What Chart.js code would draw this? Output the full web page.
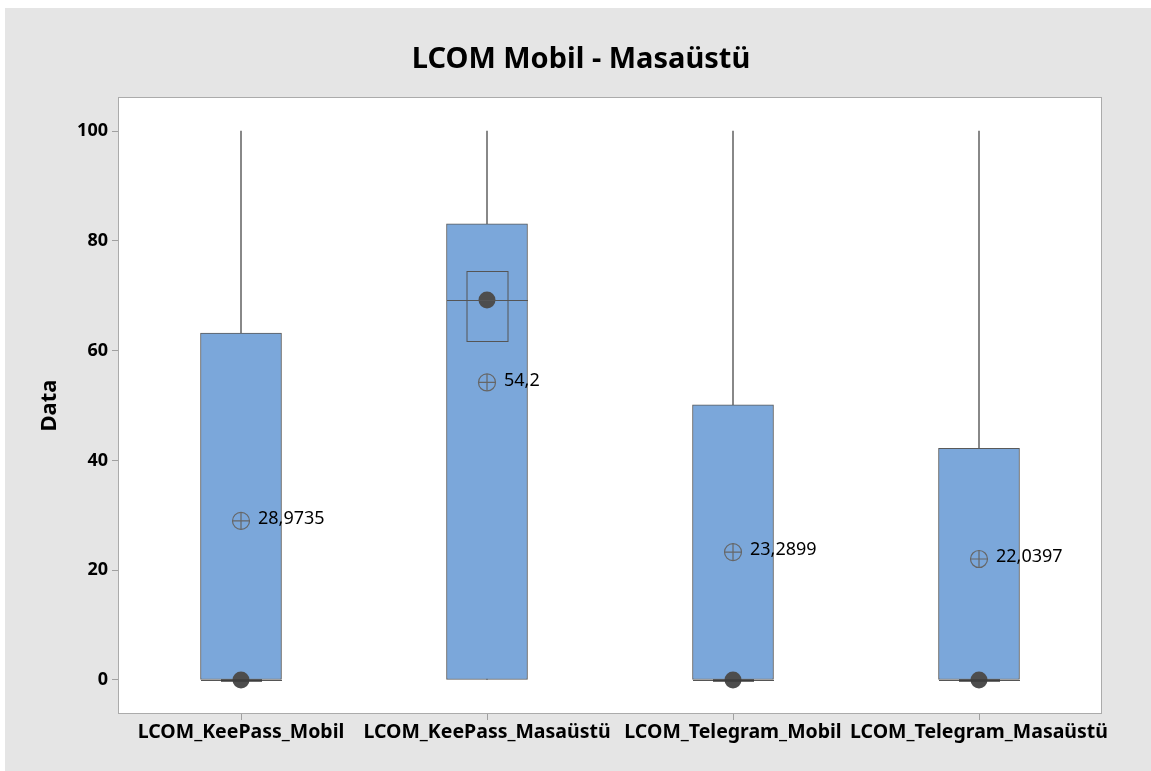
<!DOCTYPE html>
<html>
<head>
<meta charset="utf-8">
<script src="https://cdn.jsdelivr.net/npm/chart.js@4"></script>
<style>
    html, body { margin: 0; padding: 0; background: #ffffff; }
    #wrap { width: 1151px; height: 771px; }
</style>
</head>
<body>
<div id="wrap"><canvas id="boxChart" width="1151" height="771"></canvas></div>
<script>
const categories = ["LCOM_KeePass_Mobil", "LCOM_KeePass_Masaüstü", "LCOM_Telegram_Mobil", "LCOM_Telegram_Masaüstü"];
const whiskerLow = [0, 0, 0, 0];
const whiskerHigh = [100, 100, 100, 100];
const q1 = [0, 0, 0, 0];
const q3 = [63.2, 83.1, 50.1, 42.2];
const medians = [0, 69.2, 0, 0];
const medianCiLow = [0, 61.8, 0, 0];
const medianCiHigh = [0, 74.5, 0, 0];
const means = [28.9735, 54.2, 23.2899, 22.0397];
const meanLabels = ["28,9735", "54,2", "23,2899", "22,0397"];
const yTicks = [0, 20, 40, 60, 80, 100];

const FONT = "'Noto Sans', 'Open Sans', sans-serif";

/* gray background + plot frame */
const backdrop = {
    id: "backdrop",
    beforeDraw(chart) {
        const ctx = chart.ctx;
        const a = chart.chartArea;
        ctx.save();
        ctx.fillStyle = "#e5e5e5";
        ctx.fillRect(5, 8, chart.width - 5, chart.height - 8);
        ctx.fillStyle = "#ffffff";
        ctx.fillRect(a.left, a.top, a.right - a.left, a.bottom - a.top);
        ctx.restore();
    },
    afterDatasetsDraw(chart) {
        const ctx = chart.ctx;
        const a = chart.chartArea;
        ctx.save();
        ctx.strokeStyle = "#ababab";
        ctx.lineWidth = 1;
        ctx.strokeRect(a.left + 0.5, a.top + 0.5, a.right - a.left - 1, a.bottom - a.top - 1);
        ctx.restore();
    }
};

/* median line, median CI box and mean labels */
const boxExtras = {
    id: "boxExtras",
    afterDatasetsDraw(chart) {
        const ctx = chart.ctx;
        const x = chart.scales.x, y = chart.scales.y;
        ctx.save();
        categories.forEach((c, i) => {
            const cx = Math.round(x.getPixelForValue(i)) + 0.5;
            const ym = Math.round(y.getPixelForValue(medians[i])) + 0.5;
            ctx.strokeStyle = "#555555";
            ctx.lineWidth = 1;
            ctx.beginPath();
            ctx.moveTo(cx - 40.5, ym);
            ctx.lineTo(cx + 40.5, ym);
            ctx.stroke();
            const yl = Math.round(y.getPixelForValue(medianCiLow[i])) + 0.5;
            const yh = Math.round(y.getPixelForValue(medianCiHigh[i])) + 0.5;
            if (yl - yh < 1) {
                ctx.lineWidth = 2.5;
                ctx.strokeStyle = "#3d3d3d";
                ctx.beginPath();
                ctx.moveTo(cx - 20.5, yl);
                ctx.lineTo(cx + 20.5, yl);
                ctx.stroke();
            } else {
                ctx.lineWidth = 1;
                ctx.strokeRect(cx - 20.5, yh, 41, yl - yh);
            }
        });
        ctx.restore();
    },
    afterDraw(chart) {
        const ctx = chart.ctx;
        const x = chart.scales.x, y = chart.scales.y;
        ctx.save();
        ctx.fillStyle = "#000000";
        ctx.font = "18px " + FONT;
        ctx.textAlign = "left";
        ctx.textBaseline = "middle";
        means.forEach((m, i) => {
            ctx.fillText(meanLabels[i], x.getPixelForValue(i) + 17, y.getPixelForValue(m) - 2);
        });
        ctx.restore();
    }
};

new Chart(document.getElementById("boxChart"), {
    data: {
        labels: categories,
        datasets: [
            {
                type: "line",
                label: "median",
                data: medians,
                showLine: false,
                pointRadius: 8.5,
                pointBackgroundColor: "#4d4d4d",
                pointBorderColor: "#4d4d4d",
                pointBorderWidth: 0,
                order: 0
            },
            {
                type: "line",
                label: "mean circle",
                data: means,
                showLine: false,
                pointStyle: "circle",
                pointRadius: 8.5,
                pointBackgroundColor: "rgba(0,0,0,0)",
                pointBorderColor: "#666666",
                pointBorderWidth: 1.2,
                order: 1
            },
            {
                type: "line",
                label: "mean cross",
                data: means,
                showLine: false,
                pointStyle: "cross",
                pointRadius: 8.5,
                pointBorderColor: "#666666",
                pointBorderWidth: 1.2,
                order: 1
            },
            {
                type: "bar",
                label: "box",
                data: q1.map((v, i) => [v, q3[i]]),
                backgroundColor: "#7ba7da",
                borderColor: "#5a5a5a",
                borderWidth: 1,
                borderSkipped: false,
                barThickness: 81,
                grouped: false,
                order: 5
            },
            {
                type: "bar",
                label: "whisker",
                data: whiskerLow.map((v, i) => [v, whiskerHigh[i]]),
                backgroundColor: "#707070",
                borderWidth: 0,
                barThickness: 1,
                grouped: false,
                order: 6
            }
        ]
    },
    options: {
        responsive: false,
        animation: false,
        layout: { padding: { left: 60, right: 49, top: 0, bottom: 0 } },
        plugins: {
            legend: { display: false },
            tooltip: { enabled: false },
            title: {
                display: true,
                text: "LCOM Mobil - Masaüstü",
                color: "#000000",
                font: { family: FONT, size: 29, weight: "bold" },
                padding: { top: 42.6, bottom: 19.6 }
            }
        },
        scales: {
            x: {
                type: "category",
                offset: true,
                grid: { display: true, drawOnChartArea: false, drawTicks: true, tickLength: 6, color: "#a0a0a0", offset: false },
                border: { display: false },
                ticks: {
                    color: "#000000",
                    font: { family: FONT, size: 19.5, weight: "bold" },
                    maxRotation: 0,
                    minRotation: 0,
                    autoSkip: false,
                    padding: 1
                },
                afterFit(scale) { scale.height = 57; }
            },
            y: {
                type: "linear",
                min: -6.2,
                max: 106.2,
                afterBuildTicks(scale) { scale.ticks = yTicks.map(v => ({ value: v })); },
                grid: { display: true, drawOnChartArea: false, drawTicks: true, tickLength: 6, color: "#a0a0a0" },
                border: { display: false },
                ticks: {
                    color: "#000000",
                    font: { family: FONT, size: 18, weight: "bold" },
                    padding: 4
                },
                title: {
                    display: true,
                    text: "Data",
                    color: "#000000",
                    font: { family: FONT, size: 22, weight: "bold" },
                    padding: { top: -23, bottom: 0 }
                },
                afterFit(scale) { scale.width = 58; }
            }
        }
    },
    plugins: [backdrop, boxExtras]
});
</script>
</body>
</html>
